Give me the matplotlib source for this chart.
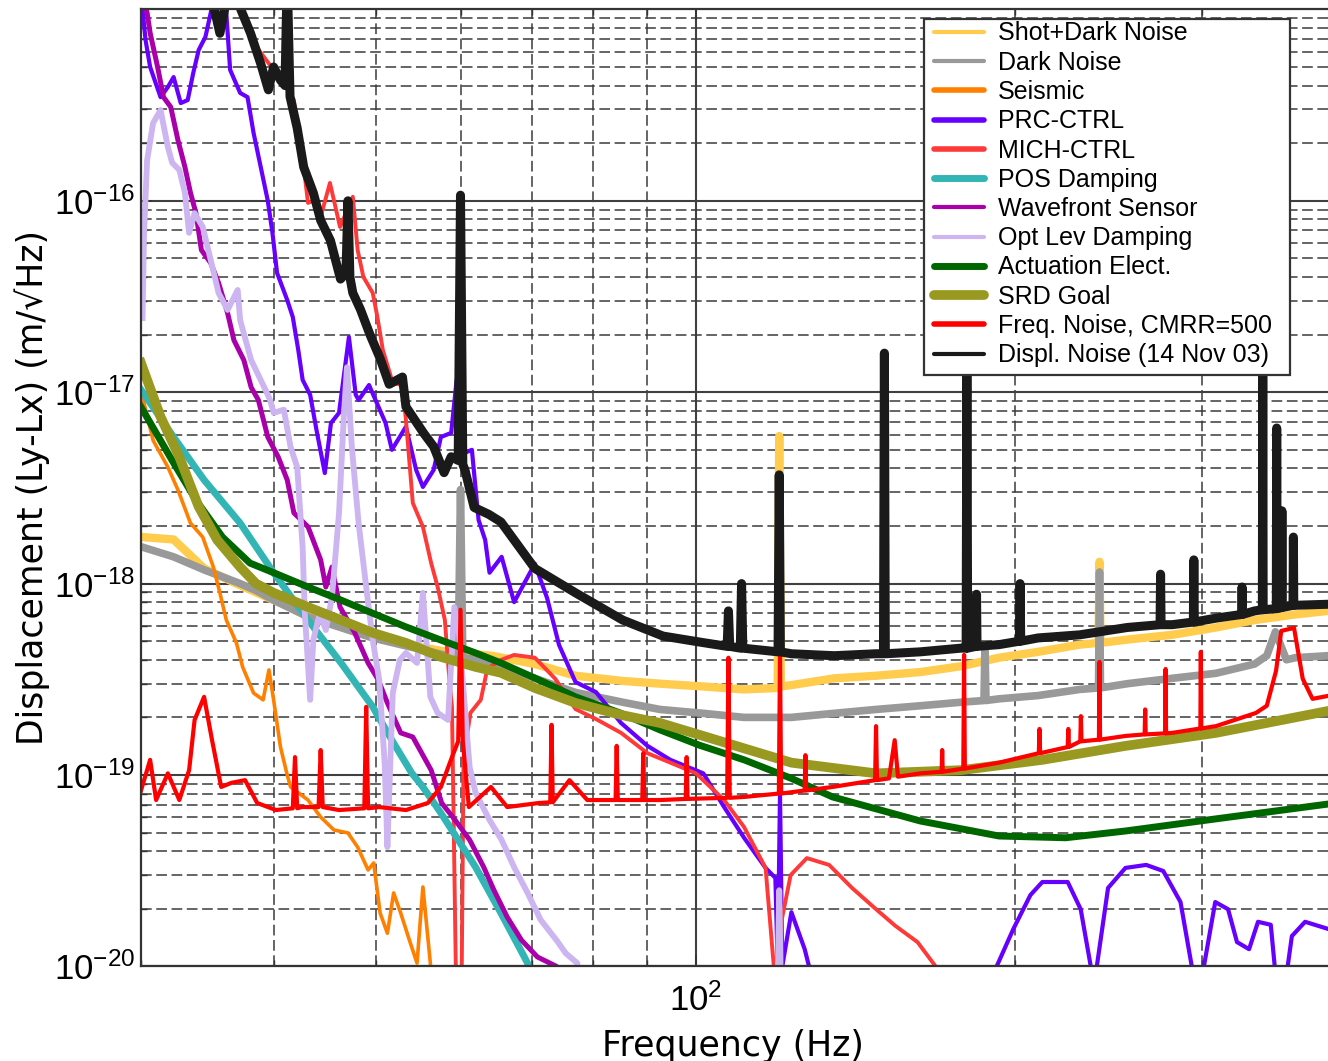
#displacement noise budget: a log-log plot of all noise terms vs frequency
import numpy as np
import matplotlib
matplotlib.use("Agg")
import matplotlib.pyplot as plt
from matplotlib.ticker import LogLocator, NullFormatter
from matplotlib.patches import Rectangle

plt.rcParams['font.family'] = ['Liberation Sans', 'DejaVu Sans']
plt.rcParams['mathtext.fontset'] = 'custom'
plt.rcParams['mathtext.rm'] = 'Liberation Sans'
plt.rcParams['mathtext.it'] = 'Liberation Sans:italic'
plt.rcParams['mathtext.bf'] = 'Liberation Sans:bold'
plt.rcParams['axes.unicode_minus'] = False

# ---- data (frequency in Hz, displacement in m/rtHz) ----
shot_f = [30.1, 32.2, 34.4, 37.2, 40, 43.1, 46.3, 49.6, 53.3, 58.3, 64.2, 70.5, 77, 85.3, 92.5,
          101.6, 111, 119.4, 119.8, 120.2, 123, 135, 147.7, 162.7, 177.7, 193, 210, 230,
          239.5, 240, 240.5, 255, 281, 309, 336, 367, 394]
shot_v = [1.75e-18, 1.7e-18, 1.2e-18, 9.8e-19, 8.2e-19, 6.9e-19, 6.1e-19, 5.4e-19, 4.8e-19, 4.4e-19,
          4.2e-19, 3.8e-19, 3.3e-19, 3.1e-19, 3.0e-19, 2.9e-19, 2.8e-19, 2.85e-19, 5.9e-18, 2.9e-19,
          2.95e-19, 3.2e-19, 3.3e-19, 3.45e-19, 3.7e-19, 4.1e-19, 4.4e-19, 4.8e-19, 4.9e-19, 1.3e-18,
          4.9e-19, 5.1e-19, 5.4e-19, 5.9e-19, 6.45e-19, 6.9e-19, 7.2e-19]

dark_f = [30.1, 32.2, 34.4, 37.2, 38.5, 40, 43.1, 49.6, 58.3, 59.7, 60.0, 60.3, 64.2, 70.5, 77, 85.3,
          92.5, 101.6, 111, 123, 135, 147.7, 162.7, 177.7, 186.8, 187.2, 187.6, 193, 210, 230,
          239.5, 240, 240.5, 255, 281, 309, 336, 345, 351.5, 360, 367, 394]
dark_v = [1.55e-18, 1.38e-18, 1.18e-18, 1.0e-18, 9.2e-19, 8.2e-19, 6.7e-19, 5.2e-19, 4.2e-19, 4.1e-19,
          3.1e-18, 4.1e-19, 3.9e-19, 3.2e-19, 2.7e-19, 2.4e-19, 2.2e-19, 2.1e-19, 2.0e-19, 2.0e-19,
          2.1e-19, 2.2e-19, 2.3e-19, 2.4e-19, 2.45e-19, 4.8e-19, 2.45e-19, 2.5e-19, 2.6e-19, 2.8e-19,
          2.85e-19, 1.15e-18, 2.85e-19, 3.0e-19, 3.2e-19, 3.4e-19, 3.8e-19, 4.2e-19, 5.6e-19, 4.0e-19,
          4.1e-19, 4.2e-19]

seis_f = [30.1, 30.8, 31.8, 32.5, 33.4, 34.3, 35.1, 35.6, 36.1, 36.9, 37.4, 38.3, 39.1, 39.6, 40.0,
          40.6, 41.2, 41.5, 43.1, 44.3, 45.6, 47.0, 48.0, 49.1, 49.7, 50.4, 51.2, 51.9, 52.7, 53.8,
          54.6, 55.3, 56.2, 56.5]
seis_v = [9.45e-18, 5.6e-18, 4.06e-18, 3.09e-18, 2.07e-18, 1.75e-18, 1.22e-18, 8.95e-19, 6.45e-19,
          4.9e-19, 3.67e-19, 2.68e-19, 2.47e-19, 3.54e-19, 2.47e-19, 1.4e-19, 1.0e-19, 8.66e-20,
          7.4e-20, 6.03e-20, 5.16e-20, 4.98e-20, 4.2e-20, 3.19e-20, 3.47e-20, 1.9e-20, 1.49e-20,
          2.42e-20, 1.9e-20, 1.33e-20, 1.04e-20, 2.6e-20, 1.04e-20, 5e-21]

prc_f = [30.0, 30.3, 30.6, 31.3, 31.8, 32.2, 32.7, 33.2, 33.6, 34.0, 34.5, 34.9, 35.2, 36.0, 36.4,
         37.2, 37.8, 38.3, 38.9, 39.5, 39.9, 40.3, 41.2, 41.7, 42.2, 42.6, 43.3, 43.9, 44.7, 45.3,
         46.1, 47.1, 47.8, 48.1, 49.2, 49.9, 51.0, 51.7, 53.3, 54.5, 55.3, 56.6, 57.5, 58.8, 59.5,
         60.6, 61.5, 62.4, 63.3, 63.9, 65.6, 67.4, 70.5, 72.4, 74.3, 77.0, 80.5, 85.0, 90.0, 94.6,
         101.6, 106.3, 111, 116.3, 118.8, 119.4, 120.0, 120.6, 123, 126.6, 127.8, 128.5,
         191, 192, 199.1, 206.6, 212, 224, 230.4, 235.5, 236.5,
         238, 238.6, 244.5, 253.9, 265.6, 275.6, 286.1, 293.2, 294,
         300, 301, 308.5, 317.2, 323.4, 332, 338.5, 348, 351, 352,
         360, 361, 364.3, 374.9, 394]
prc_v = [1.2e-15, 6.9e-16, 5.0e-16, 3.48e-16, 3.93e-16, 4.43e-16, 3.24e-16, 3.36e-16, 4.65e-16,
         6.14e-16, 7.18e-16, 9.6e-16, 1.2e-15, 1.2e-15, 4.83e-16, 3.66e-16, 3.48e-16, 2.26e-16,
         1.5e-16, 1.0e-16, 6.8e-17, 4.2e-17, 3.03e-17, 2.47e-17, 1.66e-17, 1.16e-17, 9.7e-18,
         6.35e-18, 3.78e-18, 6.9e-18, 7.8e-18, 1.94e-17, 9.7e-18, 9.1e-18, 1.09e-17, 9.1e-18,
         6.9e-18, 5.0e-18, 6.6e-18, 3.92e-18, 3.2e-18, 3.92e-18, 5.83e-18, 6.13e-18, 1.16e-17,
         4.83e-18, 5.0e-18, 2.15e-18, 1.69e-18, 1.14e-18, 1.38e-18, 8.0e-19, 1.27e-18, 8.4e-19,
         4.78e-19, 3.06e-19, 2.71e-19, 1.87e-19, 1.42e-19, 1.2e-19, 1.02e-19, 6.8e-20, 4.7e-20,
         3.27e-20, 2.9e-20, 1.0e-20, 8.0e-20, 1.0e-20, 1.92e-20, 1.23e-20, 1.0e-20, 5e-21,
         5e-21, 1.0e-20, 1.57e-20, 2.36e-20, 2.76e-20, 2.76e-20, 1.99e-20, 1.0e-20, 5e-21,
         5e-21, 1.0e-20, 2.57e-20, 3.27e-20, 3.39e-20, 3.15e-20, 2.17e-20, 1.0e-20, 5e-21,
         5e-21, 1.0e-20, 2.17e-20, 1.99e-20, 1.34e-20, 1.23e-20, 1.71e-20, 1.65e-20, 1.0e-20, 5e-21,
         5e-21, 1.0e-20, 1.44e-20, 1.71e-20, 1.57e-20]

mich_f = [36.5, 37.4, 38.3, 40.0, 40.9, 41.8, 42.2, 42.7, 43.1, 43.6, 44.4, 45.2, 46.2, 47.5, 48.0,
          48.6, 49.6, 50.1, 50.7, 51.8, 52.9, 53.3, 54.1, 55.3, 56.3, 57.1, 58.0, 58.5, 58.9, 59.5,
          60.1, 60.4, 61.3, 62.7, 63.6, 65.5, 67.4, 70.5, 73.7, 77.0, 80.5, 85.0, 90.0, 94.6, 100,
          106.3, 111, 116.3, 118.4, 119.0, 120.0, 120.5, 122.8, 127.2, 133.5, 140.3, 147.8, 154.1,
          161.7, 168.2, 170]
mich_v = [1.3e-15, 1.0e-15, 6.67e-16, 4.83e-16, 4.13e-16, 3.36e-16, 2.26e-16, 1.5e-16, 9.75e-17,
          1.0e-16, 8.62e-17, 1.24e-16, 7.3e-17, 1.05e-16, 5.53e-17, 4.0e-17, 3.3e-17, 2.47e-17,
          1.66e-17, 1.12e-17, 1.09e-17, 7.16e-18, 2.64e-18, 1.98e-18, 1.28e-18, 9.6e-19, 6.45e-19,
          3.42e-19, 2.27e-19, 5e-21, 5e-21, 1.2e-19, 2.11e-19, 2.47e-19, 3.6e-19, 3.99e-19, 4.24e-19,
          4.1e-19, 3.18e-19, 2.21e-19, 1.96e-19, 1.66e-19, 1.3e-19, 1.16e-19, 1.02e-19, 7.4e-20,
          5.35e-20, 3.27e-20, 1.0e-20, 5e-21, 5e-21, 1.77e-20, 3.0e-20, 3.68e-20, 3.39e-20, 2.57e-20,
          1.99e-20, 1.63e-20, 1.34e-20, 1.0e-20, 5e-21]

pos_f = [30, 32.2, 34.4, 37.2, 40, 43.1, 46.3, 49.6, 51.7, 54, 55.3, 57.5, 62, 65.5, 69.4, 70.5]
pos_v = [1.03e-17, 5.83e-18, 3.48e-18, 2.07e-18, 1.14e-18, 6.45e-19, 3.85e-19, 2.27e-19, 1.52e-19,
         1.02e-19, 8.66e-20, 6.33e-20, 3.3e-20, 1.9e-20, 1.04e-20, 5e-21]

wfs_f = [30, 30.4, 30.6, 31.1, 31.5, 32.0, 32.5, 33.0, 33.4, 33.8, 34.2, 34.9, 35.5, 36.2, 36.7,
         37.5, 38.1, 38.7, 39.5, 40.4, 41.2, 41.8, 43.1, 44.3, 44.8, 45.4, 46.2, 47.7, 49.1, 50.2,
         51.2, 52.7, 54.1, 56.3, 57.6, 59.3, 61.2, 63.1, 64.5, 66.4, 68.5, 70.9, 73.9, 75]
wfs_v = [1.2e-15, 9.6e-16, 7.53e-16, 5.0e-16, 3.48e-16, 3.09e-16, 2.08e-16, 1.5e-16, 1.1e-16,
         8.62e-17, 5.53e-17, 4.73e-17, 3.72e-17, 2.59e-17, 1.87e-17, 1.47e-17, 1.06e-17, 9.1e-18,
         5.83e-18, 4.59e-18, 3.48e-18, 2.34e-18, 1.98e-18, 1.33e-18, 9.6e-19, 1.22e-18, 7.54e-19,
         5.53e-19, 3.85e-19, 3.14e-19, 2.38e-19, 1.66e-19, 1.58e-19, 1.06e-19, 7.14e-20, 5.82e-20,
         4.58e-20, 3.3e-20, 2.51e-20, 1.81e-20, 1.37e-20, 1.12e-20, 1.0e-20, 5e-21]

olev_f = [30.1, 30.2, 30.4, 30.8, 31.3, 31.8, 32.1, 32.6, 33.0, 33.3, 33.7, 34.3, 34.9, 35.5, 36.2,
          37.0, 37.2, 38.1, 39.2, 39.7, 40.0, 40.9, 41.5, 42.1, 42.6, 42.8, 43.0, 43.3, 43.6, 44.2,
          44.8, 45.4, 46.1, 46.6, 46.9, 47.4, 48.1, 48.9, 49.6, 50.3, 50.9, 51.2, 51.8, 52.6, 53.3,
          54.6, 55.3, 56.2, 57.1, 58.4, 59.2, 59.8, 61.2, 62.0, 63.9, 65.6, 67.4, 69.4, 71.4, 73.9,
          75.4, 77.3, 78, 119.2, 119.8, 120.4, 121]
olev_v = [2.44e-17, 6.8e-17, 1.63e-16, 2.55e-16, 2.98e-16, 1.91e-16, 1.58e-16, 1.45e-16, 1.1e-16,
          6.8e-17, 8.62e-17, 7.3e-17, 4.9e-17, 3.3e-17, 2.69e-17, 3.42e-17, 2.38e-17, 1.47e-17,
          1.06e-17, 9.1e-18, 7.8e-18, 8.1e-18, 5.17e-18, 4.06e-18, 1.55e-18, 7.0e-19, 4.66e-19,
          2.47e-19, 5.07e-19, 7.0e-19, 5.72e-19, 8.51e-19, 2.34e-18, 7.8e-18, 1.35e-17, 5.17e-18,
          2.07e-18, 9.6e-19, 5.07e-19, 3.14e-19, 1.15e-19, 4.2e-20, 2.68e-19, 3.99e-19, 4.34e-19,
          3.85e-19, 8.95e-19, 2.56e-19, 2.11e-19, 1.94e-19, 7.54e-19, 5.5e-19, 1.1e-19, 8.07e-20,
          5.82e-20, 4.58e-20, 3.3e-20, 2.42e-20, 1.75e-20, 1.37e-20, 1.17e-20, 1.04e-20, 5e-21,
          5e-21, 2.5e-20, 5e-21, 5e-21]

act_f = [30, 32.2, 33.8, 35.8, 38, 40, 43.1, 46.3, 49.6, 53.3, 57.5, 62, 65.5, 70.5, 77, 85, 92.5,
         100.8, 111, 123, 134.5, 162.7, 193, 223, 254, 309, 394]
act_v = [8.37e-18, 4.27e-18, 2.73e-18, 1.75e-18, 1.28e-18, 1.14e-18, 9.6e-19, 8.2e-19, 7.0e-19,
         5.94e-19, 5.07e-19, 4.34e-19, 3.85e-19, 3.21e-19, 2.56e-19, 2.1e-19, 1.72e-19, 1.43e-19,
         1.2e-19, 9.6e-20, 7.68e-20, 5.75e-20, 4.8e-20, 4.7e-20, 5.1e-20, 5.9e-20, 7.05e-20]

srd_f = [30, 31.3, 32.6, 34.0, 35.4, 37.2, 38.5, 40, 43.1, 46.3, 49.6, 53.3, 57.5, 62, 65.5, 70.5,
         77, 85, 92.5, 100.8, 123, 147.8, 177.7, 212, 254, 309, 394]
srd_v = [1.42e-17, 7.44e-18, 4.59e-18, 2.52e-18, 1.69e-18, 1.22e-18, 1.0e-18, 8.95e-19, 7.54e-19,
         6.45e-19, 5.53e-19, 4.9e-19, 4.14e-19, 3.67e-19, 3.42e-19, 2.85e-19, 2.38e-19, 2.06e-19,
         1.87e-19, 1.62e-19, 1.16e-19, 1.02e-19, 1.06e-19, 1.2e-19, 1.42e-19, 1.66e-19, 2.16e-19]

freq_f = [30, 30.6, 31.0, 31.8, 32.6, 33.3, 33.7, 34.4, 35.0, 35.7, 36.5, 37.6, 38.6, 40.2, 41.7,
          41.9, 42.1, 42.5, 44.1, 44.3, 44.5, 46.1, 48.7, 48.9, 49.1, 50.3, 53.3, 55.9, 57.5, 58.9,
          59.7, 60.0, 60.3, 61.1, 64.1, 66.4, 71.1, 72.9, 73.1, 73.3, 76.0, 79.0, 84.0, 84.2, 84.4,
          89.0, 89.2, 89.4, 92.6, 97.8, 98, 98.2, 107.0, 107.3, 107.6, 111, 119.7, 120, 120.3,
          126.6, 126.8, 127.0, 134.5, 147.5, 147.8, 148.1, 152, 153.9, 155, 162.7, 170.4, 170.6,
          170.8, 178.6, 178.9, 179.2, 193, 210.4, 210.7, 211.0, 224.0, 224.3, 224.6, 230.2, 230.5,
          230.8, 239.7, 240, 240.3, 254, 264.7, 265, 265.3, 276.7, 277, 277.3, 281, 298.7, 299,
          299.3, 309, 337, 345, 352, 356, 366, 373, 381, 394]
freq_v = [8.3e-20, 1.2e-19, 7.4e-20, 1.02e-19, 7.4e-20, 1.06e-19, 1.94e-19, 2.56e-19, 1.52e-19,
          8.66e-20, 9.1e-20, 9.4e-20, 7.14e-20, 6.56e-20, 6.7e-20, 1.24e-19, 6.7e-20, 6.8e-20,
          6.8e-20, 1.35e-19, 6.8e-20, 6.56e-20, 6.7e-20, 2.27e-19, 6.7e-20, 6.8e-20, 6.56e-20,
          7.14e-20, 8.66e-20, 1.24e-19, 1.5e-19, 7.3e-19, 1.5e-19, 6.8e-20, 8.66e-20, 6.8e-20,
          7.14e-20, 7.2e-20, 1.83e-19, 7.2e-20, 9.4e-20, 7.4e-20, 7.4e-20, 1.42e-19, 7.4e-20,
          7.4e-20, 1.3e-19, 7.4e-20, 7.4e-20, 7.5e-20, 1.24e-19, 7.5e-20, 7.6e-20, 4.1e-19, 7.6e-20,
          7.68e-20, 8e-20, 4.24e-19, 8e-20, 8.3e-20, 1.27e-19, 8.3e-20, 8.66e-20, 9.4e-20, 1.8e-19,
          9.4e-20, 9.6e-20, 1.52e-19, 9.8e-20, 1.02e-19, 1.04e-19, 1.35e-19, 1.04e-19, 1.08e-19,
          4.24e-19, 1.08e-19, 1.16e-19, 1.3e-19, 1.74e-19, 1.3e-19, 1.4e-19, 1.74e-19, 1.4e-19,
          1.5e-19, 2.03e-19, 1.5e-19, 1.53e-19, 3.9e-19, 1.53e-19, 1.6e-19, 1.63e-19, 2.2e-19,
          1.63e-19, 1.65e-19, 3.58e-19, 1.65e-19, 1.66e-19, 1.75e-19, 4.4e-19, 1.75e-19, 1.8e-19,
          2.11e-19, 2.3e-19, 3.5e-19, 5.66e-19, 5.87e-19, 3.18e-19, 2.5e-19, 2.59e-19]

displ_f = [34.8, 35.6, 36.3, 36.9, 37.25, 38.05, 38.9, 39.55, 40.0, 40.6, 41.0, 41.2, 41.45, 42.1,
           42.7, 43.6, 44.3, 45.25, 46.25, 46.8, 47.0, 47.2, 47.5, 48.3, 49.3, 50.4, 51.4, 52.9,
           53.3, 55.4, 56.6, 57.9, 58.8, 59.7, 60.0, 60.3, 60.6, 61.8, 63.8, 65.5, 70.5, 77.0, 85.3,
           93.1, 100.8, 107.0, 107.3, 107.6, 110.1, 110.4, 110.7, 119.5, 119.8, 120.1, 123, 135,
           147.7, 150.2, 150.5, 150.8, 162.7, 177.7, 179.7, 180, 180.3, 183.6, 183.8, 184.0, 193,
           201.7, 202, 202.3, 210, 230, 255, 273.7, 274, 274.3, 281, 294.2, 294.5, 294.8, 309,
           326.7, 327, 327.3, 336, 341.7, 342, 342.3, 352.2, 352.5, 352.8, 356.2, 356.5, 356.8,
           365.2, 365.5, 365.8, 394]
displ_v = [1.3e-15, 7.5e-16, 1.3e-15, 1.3e-15, 1.0e-15, 7.5e-16, 5.2e-16, 3.8e-16, 5.0e-16,
           4.27e-16, 4.0e-16, 1.5e-15, 3.5e-16, 2.4e-16, 1.5e-16, 1.1e-16, 7.9e-17, 6.2e-17, 3.9e-17,
           4.2e-17, 1.0e-16, 4.0e-17, 3.3e-17, 2.7e-17, 2.0e-17, 1.5e-17, 1.1e-17, 1.2e-17, 8.4e-18,
           6.1e-18, 5.2e-18, 3.8e-18, 4.6e-18, 4.4e-18, 1.07e-16, 4.2e-18, 3.9e-18, 2.5e-18, 2.3e-18,
           2.1e-18, 1.2e-18, 8.95e-19, 6.45e-19, 5.32e-19, 4.95e-19, 4.7e-19, 7.2e-19, 4.7e-19,
           4.6e-19, 1.0e-18, 4.6e-19, 4.4e-19, 3.7e-18, 4.4e-19, 4.3e-19, 4.2e-19, 4.3e-19, 4.3e-19,
           1.6e-17, 4.3e-19, 4.4e-19, 4.6e-19, 4.6e-19, 1.5e-17, 4.6e-19, 4.7e-19, 8.8e-19, 4.7e-19,
           4.8e-19, 5.0e-19, 1.0e-18, 5.0e-19, 5.2e-19, 5.4e-19, 5.9e-19, 6.1e-19, 1.12e-18, 6.1e-19,
           6.1e-19, 6.3e-19, 1.33e-18, 6.3e-19, 6.6e-19, 6.9e-19, 9.6e-19, 6.9e-19, 7.2e-19, 7.3e-19,
           1.5e-17, 7.3e-19, 7.4e-19, 6.5e-18, 7.4e-19, 7.5e-19, 2.4e-18, 7.5e-19, 7.7e-19, 1.75e-18,
           7.7e-19, 7.8e-19]

# name, colour, width in the plot, width of the legend handle
traces = [
    (shot_f, shot_v, "Shot+Dark Noise", "#ffcc4d", 6.0, 3.0),
    (dark_f, dark_v, "Dark Noise", "#999999", 5.5, 3.0),
    (seis_f, seis_v, "Seismic", "#ff8000", 2.6, 4.0),
    (prc_f, prc_v, "PRC-CTRL", "#6600ff", 3.0, 4.0),
    (mich_f, mich_v, "MICH-CTRL", "#ff3838", 2.8, 4.0),
    (pos_f, pos_v, "POS Damping", "#33b5b5", 5.0, 5.0),
    (wfs_f, wfs_v, "Wavefront Sensor", "#aa00aa", 3.6, 3.0),
    (olev_f, olev_v, "Opt Lev Damping", "#ccb5f0", 4.2, 3.0),
    (act_f, act_v, "Actuation Elect.", "#006600", 5.0, 5.0),
    (srd_f, srd_v, "SRD Goal", "#999922", 7.0, 7.0),
    (freq_f, freq_v, "Freq. Noise, CMRR=500", "#ff0000", 3.0, 4.0),
    (displ_f, displ_v, "Displ. Noise (14 Nov 03)", "#1a1a1a", 6.5, 3.0),
]

fig = plt.figure(figsize=(13.28, 10.61), dpi=100)
ax = fig.add_axes([141 / 1328, 1 - 966.4 / 1061, 1187 / 1328, 957 / 1061])

for f, v, name, col, lw, _ in traces:
    ax.plot(f, v, color=col, lw=lw, label=name, solid_joinstyle='round')

ax.set_xscale('log')
ax.set_yscale('log')
ax.set_xlim(30, 394)
ax.set_ylim(1e-20, 1e-15)

# matlab style grid: solid decades, dashed in between
ax.set_axisbelow(True)
ax.xaxis.set_minor_locator(LogLocator(base=10, subs=np.arange(2, 10)))
ax.yaxis.set_minor_locator(LogLocator(base=10, subs=np.arange(2, 10), numticks=20))
ax.xaxis.set_minor_formatter(NullFormatter())
ax.yaxis.set_minor_formatter(NullFormatter())
ax.set_yticks([1e-20, 1e-19, 1e-18, 1e-17, 1e-16])
ax.grid(which='major', ls='-', color='#404040', lw=1.5)
ax.grid(which='minor', ls=(0, (7, 3)), color='#3a3a3a', lw=1.1)

ax.tick_params(which='both', direction='in', top=True, right=False, color='#333333')
ax.tick_params(which='major', length=8, width=1.2, labelsize=25)
ax.tick_params(axis='y', which='major', pad=4)
ax.tick_params(axis='x', which='major', pad=12)
ax.tick_params(which='minor', length=4, width=1.0)
for side in ['left', 'bottom', 'top']:
    ax.spines[side].set_color('#333333')
    ax.spines[side].set_linewidth(1.6)
ax.spines['right'].set_visible(False)

ax.set_xlabel("Frequency (Hz)", fontsize=25, family='DejaVu Sans', va='baseline')
ax.xaxis.set_label_coords(0.4987, -0.0935)
ax.set_ylabel("Displacement (Ly-Lx) (m/\u221aHz)", fontsize=25, family='DejaVu Sans')
ax.yaxis.set_label_coords(-0.0767, 0.5)

# legend: white box drawn separately so the padding matches the original
box = Rectangle((924 / 1328, 1 - 374.6 / 1061), 366 / 1328, 356 / 1061, transform=fig.transFigure,
                facecolor='white', edgecolor='#333333', lw=1.6, zorder=4.5, clip_on=False)
ax.add_patch(box)
leg = ax.legend(loc='upper left', bbox_to_anchor=(934 / 1328, 1 - 21.5 / 1061),
                bbox_transform=fig.transFigure, prop={'family': 'Liberation Sans', 'size': 18},
                frameon=False, borderpad=0, labelspacing=0.21, handlelength=2.0,
                handletextpad=0.56, borderaxespad=0)
leg.set_zorder(5)
for hl, tr in zip(leg.get_lines(), traces):
    hl.set_linewidth(tr[5])
    hl.set_solid_capstyle('round')

fig.savefig("out.png", dpi=100)
